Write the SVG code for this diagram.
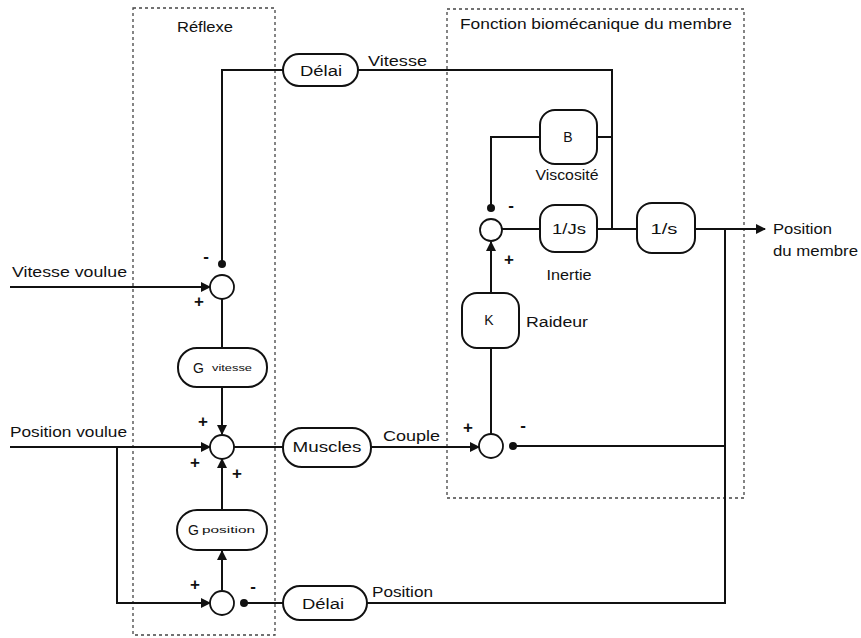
<svg xmlns="http://www.w3.org/2000/svg" width="861" height="638" viewBox="0 0 861 638">
<style>
text{font-family:"Liberation Sans",Arial,sans-serif;fill:#111;}
.lbl{font-size:14px;}
.sm{font-size:9px;}
.sgn{font-size:17px;font-weight:bold;}
.blk{fill:#fff;stroke:#111;stroke-width:2;}
.sum{fill:#fff;stroke:#111;stroke-width:1.8;}
.ln{fill:none;stroke:#111;stroke-width:2;}
.frame{fill:none;stroke:#444;stroke-width:1.3;stroke-dasharray:3 3;}
</style>
<defs>
<marker id="ah" viewBox="0 0 10 10" refX="9" refY="5" markerWidth="5" markerHeight="5" orient="auto" markerUnits="strokeWidth">
<path d="M0,0 L10,5 L0,10 z" fill="#111"/>
</marker>
</defs>
<rect width="861" height="638" fill="#fff"/>
<g id="frames">
<rect class="frame" x="133" y="8" width="142" height="627"/>
<text class="lbl" x="205" y="32" text-anchor="middle" textLength="56" lengthAdjust="spacingAndGlyphs">Réflexe</text>
<rect class="frame" x="447" y="9" width="297" height="489"/>
<text class="lbl" x="460" y="29" textLength="272" lengthAdjust="spacingAndGlyphs">Fonction biomécanique du membre</text>
</g>
<g id="connectors">
<path class="ln" d="M222,264 V70 H283"/>
<path class="ln" d="M358,70 H612 V229"/>
<path class="ln" d="M597,137 H612"/>
<path class="ln" d="M540,137 H491 V208"/>
<path class="ln" d="M502,229 H540"/>
<path class="ln" d="M597,229 H637"/>
<path class="ln" d="M695,229 H765" marker-end="url(#ah)"/>
<path class="ln" d="M725,229 V603 H367"/>
<path class="ln" d="M725,446 H513"/>
<path class="ln" d="M491,293 V242" marker-end="url(#ah)"/>
<path class="ln" d="M491,434 V348"/>
<path class="ln" d="M10,287 H210" marker-end="url(#ah)"/>
<path class="ln" d="M222,299 V348"/>
<path class="ln" d="M222,387 V434" marker-end="url(#ah)"/>
<path class="ln" d="M10,447 H210" marker-end="url(#ah)"/>
<path class="ln" d="M117,447 V603 H210" marker-end="url(#ah)"/>
<path class="ln" d="M234,447 H283"/>
<path class="ln" d="M371,447 H479" marker-end="url(#ah)"/>
<path class="ln" d="M222,510 V459" marker-end="url(#ah)"/>
<path class="ln" d="M222,590 V551" marker-end="url(#ah)"/>
<path class="ln" d="M283,603 H244"/>
<circle cx="222" cy="264" r="4" fill="#111"/>
<circle cx="491" cy="208" r="4" fill="#111"/>
<circle cx="513" cy="446" r="4" fill="#111"/>
<circle cx="244" cy="603" r="4" fill="#111"/>
<text class="lbl" x="368" y="66" textLength="59" lengthAdjust="spacingAndGlyphs">Vitesse</text>
<text class="lbl" x="383" y="441" textLength="57" lengthAdjust="spacingAndGlyphs">Couple</text>
<text class="lbl" x="372" y="597" textLength="61" lengthAdjust="spacingAndGlyphs">Position</text>
<text class="lbl" x="12" y="277" textLength="115" lengthAdjust="spacingAndGlyphs">Vitesse voulue</text>
<text class="lbl" x="10" y="437" textLength="117" lengthAdjust="spacingAndGlyphs">Position voulue</text>
<text class="lbl" x="773" y="234" textLength="59" lengthAdjust="spacingAndGlyphs">Position</text>
<text class="lbl" x="773" y="256" textLength="85" lengthAdjust="spacingAndGlyphs">du membre</text>
</g>
<g id="signs">
<text class="sgn" x="206" y="262" text-anchor="middle">-</text>
<text class="sgn" x="199" y="307" text-anchor="middle">+</text>
<text class="sgn" x="203" y="427" text-anchor="middle">+</text>
<text class="sgn" x="195" y="468" text-anchor="middle">+</text>
<text class="sgn" x="237" y="479" text-anchor="middle">+</text>
<text class="sgn" x="195" y="590" text-anchor="middle">+</text>
<text class="sgn" x="253" y="592" text-anchor="middle">-</text>
<text class="sgn" x="511" y="211" text-anchor="middle">-</text>
<text class="sgn" x="509" y="265" text-anchor="middle">+</text>
<text class="sgn" x="468" y="433" text-anchor="middle">+</text>
<text class="sgn" x="523" y="431" text-anchor="middle">-</text>
</g>
<g id="sum-vitesse"><circle class="sum" cx="222" cy="287" r="12"/></g>
<g id="sum-main"><circle class="sum" cx="222" cy="447" r="12"/></g>
<g id="sum-position"><circle class="sum" cx="222" cy="603" r="12"/></g>
<g id="sum-inertie"><circle class="sum" cx="491" cy="230" r="11"/></g>
<g id="sum-couple"><circle class="sum" cx="491" cy="446" r="12"/></g>
<g id="delai-vitesse">
<rect class="blk" x="283" y="54" width="75" height="32" rx="16"/>
<text class="lbl" x="321" y="76" text-anchor="middle" textLength="42" lengthAdjust="spacingAndGlyphs">Délai</text>
</g>
<g id="g-vitesse">
<rect class="blk" x="178" y="348" width="89" height="39" rx="19"/>
<text class="lbl" x="193" y="373">G</text>
<text class="sm" x="212" y="371" textLength="40" lengthAdjust="spacingAndGlyphs">vitesse</text>
</g>
<g id="muscles">
<rect class="blk" x="283" y="428" width="88" height="39" rx="19"/>
<text class="lbl" x="327" y="452" text-anchor="middle" textLength="69" lengthAdjust="spacingAndGlyphs">Muscles</text>
</g>
<g id="g-position">
<rect class="blk" x="177" y="510" width="90" height="40" rx="20"/>
<text class="lbl" x="188" y="535">G</text>
<text class="sm" x="202" y="533" textLength="53" lengthAdjust="spacingAndGlyphs">position</text>
</g>
<g id="delai-position">
<rect class="blk" x="283" y="586" width="84" height="34" rx="17"/>
<text class="lbl" x="323" y="609" text-anchor="middle" textLength="42" lengthAdjust="spacingAndGlyphs">Délai</text>
</g>
<g id="b-viscosite">
<rect class="blk" x="540" y="110" width="57" height="54" rx="15"/>
<text class="lbl" x="568" y="142" text-anchor="middle">B</text>
<text class="lbl" x="567" y="180" text-anchor="middle" textLength="63" lengthAdjust="spacingAndGlyphs">Viscosité</text>
</g>
<g id="inertie">
<rect class="blk" x="540" y="205" width="57" height="47" rx="15"/>
<text class="lbl" x="569" y="234" text-anchor="middle" textLength="34" lengthAdjust="spacingAndGlyphs">1/Js</text>
<text class="lbl" x="569" y="280" text-anchor="middle" textLength="45" lengthAdjust="spacingAndGlyphs">Inertie</text>
</g>
<g id="integrateur">
<rect class="blk" x="637" y="203" width="58" height="50" rx="15"/>
<text class="lbl" x="664" y="234" text-anchor="middle" textLength="27" lengthAdjust="spacingAndGlyphs">1/s</text>
</g>
<g id="k-raideur">
<rect class="blk" x="462" y="293" width="57" height="55" rx="15"/>
<text class="lbl" x="489" y="325" text-anchor="middle">K</text>
<text class="lbl" x="526" y="327" textLength="62" lengthAdjust="spacingAndGlyphs">Raideur</text>
</g>
</svg>
